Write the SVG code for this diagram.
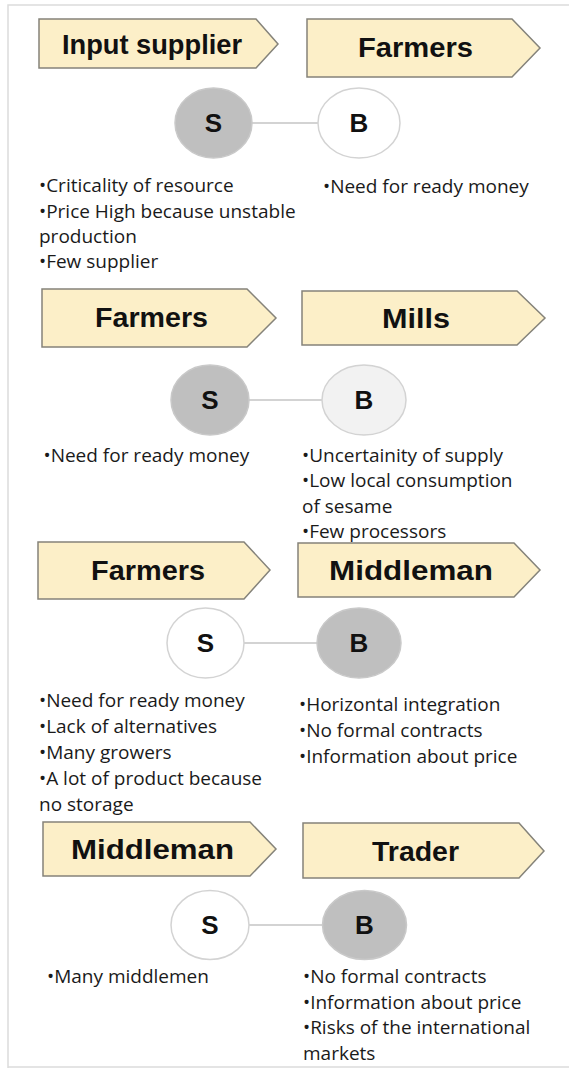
<svg xmlns="http://www.w3.org/2000/svg" width="569" height="1074" viewBox="0 0 569 1074">
<style>
.frame{fill:none;stroke:#dcdcdc;stroke-width:1.5}
.tag{fill:#fcefc8;stroke:#85837a;stroke-width:1.5;stroke-linejoin:miter}
.title{font-family:"Liberation Sans",Arial,sans-serif;font-weight:bold;font-size:28px;fill:#111;text-anchor:middle}
.gray{fill:#bfbfbf;stroke:#c9c9c9;stroke-width:1.5}
.white{fill:#ffffff;stroke:#d3d3d3;stroke-width:1.5}
.light{fill:#f2f2f2;stroke:#d3d3d3;stroke-width:1.5}
.letter{font-family:"Liberation Sans",Arial,sans-serif;font-weight:bold;font-size:26px;fill:#111;text-anchor:middle}
.body{font-family:"Open Sans","Liberation Sans",sans-serif;font-size:19px;fill:#1a1a1a}
.link{stroke:#d3d3d3;stroke-width:2;fill:none}
</style>
<rect width="569" height="1074" fill="#ffffff"/>
<path class="frame" d="M8,1068 V5 H569 M8,1067 H569"/>

<g id="connectors">
<line class="link" x1="252" y1="123" x2="318" y2="123"/>
<line class="link" x1="249" y1="400" x2="322" y2="400"/>
<line class="link" x1="244" y1="643" x2="317" y2="643"/>
<line class="link" x1="249" y1="925" x2="323" y2="925"/>
</g>

<g id="tag-input-supplier">
<path class="tag" d="M39,19 H256 L278,44 L256,68 H39 Z"/>
<text class="title" x="152" y="54" textLength="180" lengthAdjust="spacingAndGlyphs">Input supplier</text>
</g>
<g id="tag-farmers-1">
<path class="tag" d="M307,19 H512 L540,48 L512,77 H307 Z"/>
<text class="title" x="415.5" y="57" textLength="115" lengthAdjust="spacingAndGlyphs">Farmers</text>
</g>
<g id="s1-S"><ellipse class="gray" cx="213.5" cy="123" rx="38.5" ry="35"/><text class="letter" x="213.5" y="132">S</text></g>
<g id="s1-B"><ellipse class="white" cx="359" cy="123" rx="41" ry="35"/><text class="letter" x="359" y="132">B</text></g>
<g id="s1-text">
<text class="body" x="39" y="192">•Criticality of resource</text>
<text class="body" x="39" y="218">•Price High because unstable</text>
<text class="body" x="39" y="243">production</text>
<text class="body" x="39" y="268">•Few supplier</text>
<text class="body" x="323" y="193">•Need for ready money</text>
</g>

<g id="tag-farmers-2">
<path class="tag" d="M42,289 H247 L276,318 L247,347 H42 Z"/>
<text class="title" x="151.5" y="327" textLength="113" lengthAdjust="spacingAndGlyphs">Farmers</text>
</g>
<g id="tag-mills">
<path class="tag" d="M302,291 H517 L545,318 L517,345 H302 Z"/>
<text class="title" x="416" y="328" textLength="68" lengthAdjust="spacingAndGlyphs">Mills</text>
</g>
<g id="s2-S"><ellipse class="gray" cx="210" cy="400" rx="39" ry="35"/><text class="letter" x="210" y="409">S</text></g>
<g id="s2-B"><ellipse class="light" cx="364" cy="400" rx="42" ry="35"/><text class="letter" x="364" y="409">B</text></g>
<g id="s2-text">
<text class="body" x="43.5" y="462">•Need for ready money</text>
<text class="body" x="302" y="462">•Uncertainity of supply</text>
<text class="body" x="302" y="487">•Low local consumption</text>
<text class="body" x="302" y="513">of sesame</text>
<text class="body" x="302" y="538">•Few processors</text>
</g>

<g id="tag-farmers-3">
<path class="tag" d="M38,542 H244 L270,570 L244,599 H38 Z"/>
<text class="title" x="148" y="580" textLength="114" lengthAdjust="spacingAndGlyphs">Farmers</text>
</g>
<g id="tag-middleman-1">
<path class="tag" d="M298,543 H514 L540,570 L514,597 H298 Z"/>
<text class="title" x="411" y="580" textLength="164" lengthAdjust="spacingAndGlyphs">Middleman</text>
</g>
<g id="s3-S"><ellipse class="white" cx="205.5" cy="643" rx="38.5" ry="35"/><text class="letter" x="205.5" y="652">S</text></g>
<g id="s3-B"><ellipse class="gray" cx="359" cy="643" rx="42" ry="35"/><text class="letter" x="359" y="652">B</text></g>
<g id="s3-text">
<text class="body" x="39" y="707">•Need for ready money</text>
<text class="body" x="39" y="733">•Lack of alternatives</text>
<text class="body" x="39" y="759">•Many growers</text>
<text class="body" x="39" y="785">•A lot of product because</text>
<text class="body" x="39" y="811">no storage</text>
<text class="body" x="299" y="711">•Horizontal integration</text>
<text class="body" x="299" y="737">•No formal contracts</text>
<text class="body" x="299" y="763">•Information about price</text>
</g>

<g id="tag-middleman-2">
<path class="tag" d="M43,822 H250 L276,849 L250,876 H43 Z"/>
<text class="title" x="152.5" y="859" textLength="163" lengthAdjust="spacingAndGlyphs">Middleman</text>
</g>
<g id="tag-trader">
<path class="tag" d="M303,823 H519 L544,851 L519,878 H303 Z"/>
<text class="title" x="415.5" y="861" textLength="87" lengthAdjust="spacingAndGlyphs">Trader</text>
</g>
<g id="s4-S"><ellipse class="white" cx="210" cy="925" rx="39" ry="34.5"/><text class="letter" x="210" y="934">S</text></g>
<g id="s4-B"><ellipse class="gray" cx="364.5" cy="925" rx="42" ry="34.5"/><text class="letter" x="364.5" y="934">B</text></g>
<g id="s4-text">
<text class="body" x="47" y="983">•Many middlemen</text>
<text class="body" x="303" y="983">•No formal contracts</text>
<text class="body" x="303" y="1009">•Information about price</text>
<text class="body" x="303" y="1034">•Risks of the international</text>
<text class="body" x="303" y="1060">markets</text>
</g>
</svg>
